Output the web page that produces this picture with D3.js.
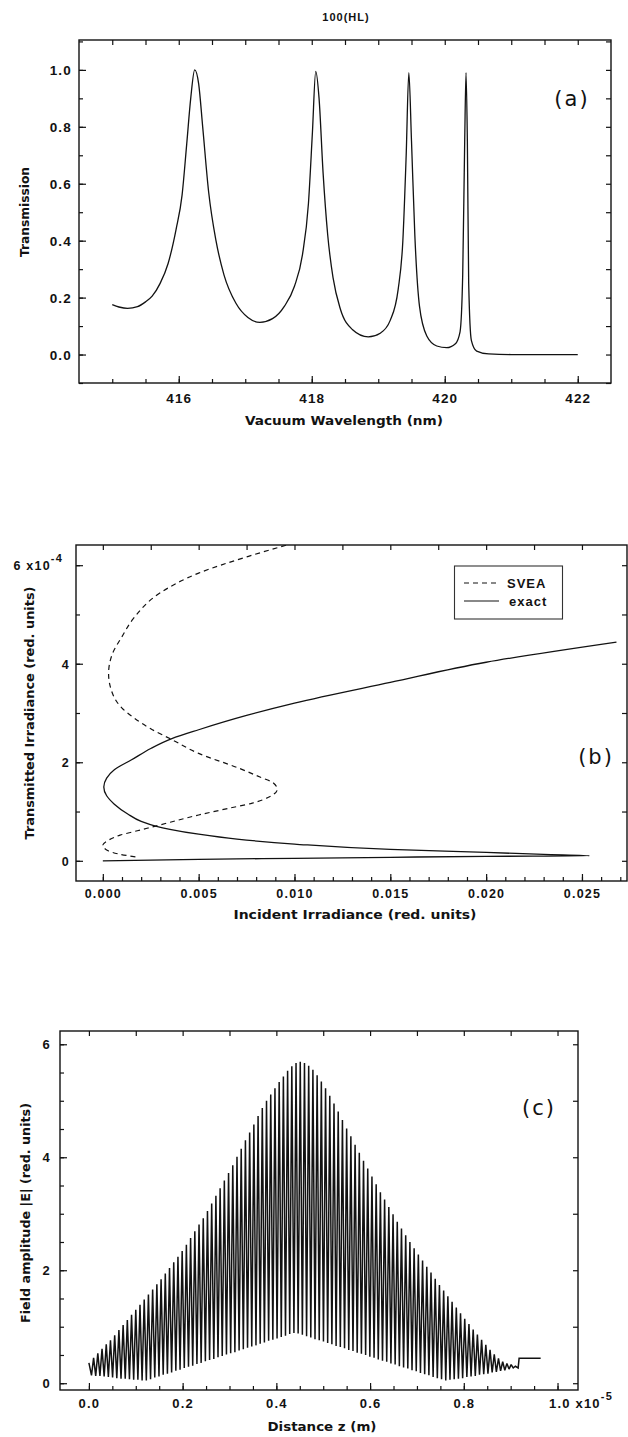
<!DOCTYPE html>
<html><head><meta charset="utf-8">
<script src="https://cdn.jsdelivr.net/npm/d3@7/dist/d3.min.js"></script>
<style>
body{margin:0;background:#fff;}
svg{display:block;background:#fff;}
</style></head><body>
<svg id="fig" width="628" height="1437"></svg>
<script>
// ---------------- DATA ----------------
const figureTitle = "100(HL)";

// Panel (a): transmission spectrum
const aWavelength = [415.00,415.10,415.23,415.38,415.50,415.60,415.72,415.84,415.96,416.05,416.12,416.18,416.24,416.30,416.36,416.45,416.56,416.68,416.86,417.04,417.22,417.41,417.59,417.74,417.86,417.95,418.01,418.06,418.11,418.17,418.24,418.32,418.43,418.61,418.85,419.03,419.18,419.30,419.37,419.42,419.46,419.50,419.55,419.62,419.73,419.88,420.03,420.16,420.23,420.27,420.30,420.32,420.34,420.36,420.40,420.48,420.66,421.00,422.00];
const aTransmission = [0.175,0.167,0.162,0.168,0.185,0.205,0.25,0.32,0.44,0.56,0.74,0.90,1.00,0.95,0.80,0.57,0.40,0.28,0.18,0.13,0.113,0.126,0.17,0.24,0.35,0.53,0.78,0.995,0.90,0.64,0.42,0.27,0.16,0.088,0.062,0.075,0.12,0.23,0.40,0.70,0.99,0.75,0.42,0.17,0.065,0.030,0.024,0.038,0.08,0.28,0.75,0.99,0.75,0.25,0.05,0.012,0.002,0.0,0.0];
const aXTicks = [416,418,420,422];
const aXTickLabels = ["416","418","420","422"];
const aYTicks = [0,0.2,0.4,0.6,0.8,1.0];
const aYTickLabels = ["0.0","0.2","0.4","0.6","0.8","1.0"];

// Panel (b): bistability curves (transmitted irradiance in units of 1e-4)
const bExactIncident = [0.0000,0.0050,0.0100,0.0150,0.0200,0.0254,0.0230,0.0200,0.0150,0.0100,0.0070,0.0050,0.0035,0.0028,0.0020,0.0013,0.0006,0.0002,0.00005,0.0002,0.0006,0.0015,0.0025,0.0036,0.0050,0.0075,0.0100,0.0150,0.0200,0.0268];
const bExactTransmitted = [0.00,0.03,0.05,0.07,0.09,0.10,0.13,0.17,0.23,0.34,0.44,0.54,0.64,0.70,0.80,0.95,1.15,1.32,1.50,1.68,1.85,2.05,2.28,2.48,2.66,2.95,3.20,3.62,4.03,4.44];
const bSveaIncident = [0.0017,0.0008,0.0002,0.0000,0.0003,0.0009,0.0018,0.0028,0.0050,0.0065,0.0078,0.0087,0.0091,0.0089,0.0082,0.0071,0.0050,0.0036,0.0025,0.0017,0.0010,0.0005,0.0003,0.0005,0.0010,0.0016,0.0030,0.0050,0.0076,0.0097];
const bSveaTransmitted = [0.08,0.14,0.22,0.32,0.42,0.52,0.61,0.71,0.93,1.06,1.17,1.30,1.45,1.58,1.70,1.88,2.18,2.46,2.68,2.88,3.10,3.40,3.80,4.20,4.55,4.92,5.44,5.84,6.18,6.42];
const bXTicks = [0,0.005,0.010,0.015,0.020,0.025];
const bXTickLabels = ["0.000","0.005","0.010","0.015","0.020","0.025"];
const bYTicks = [0,2,4,6];
const bYTickLabels = ["0","2","4","6"];
const bYExponent = "-4";
const bLegendLabels = ["SVEA","exact"];

// Panel (c): field amplitude inside the stack (z in units of 1e-5 m)
const cHeadZ = [0.000];
const cHeadE = [0.36];
const cPeakZ = [0.010,0.019,0.028,0.037,0.046,0.055,0.064,0.073,0.082,0.091,0.100,0.109,0.118,0.127,0.136,0.145,0.154,0.163,0.172,0.181,0.190,0.199,0.208,0.217,0.226,0.235,0.244,0.253,0.262,0.271,0.280,0.289,0.298,0.307,0.316,0.325,0.334,0.343,0.352,0.361,0.370,0.379,0.388,0.397,0.406,0.415,0.424,0.433,0.442,0.451,0.460,0.469,0.478,0.487,0.496,0.505,0.514,0.523,0.532,0.541,0.550,0.559,0.568,0.577,0.586,0.595,0.604,0.613,0.622,0.631,0.640,0.649,0.658,0.667,0.676,0.685,0.694,0.703,0.712,0.721,0.730,0.739,0.748,0.757,0.766,0.775,0.784,0.793,0.802,0.811,0.820,0.829,0.838,0.847,0.856,0.865,0.874,0.883,0.892,0.901];
const cPeakE = [0.45,0.53,0.61,0.69,0.76,0.85,0.94,1.03,1.12,1.21,1.30,1.39,1.48,1.57,1.66,1.75,1.84,1.94,2.04,2.14,2.24,2.34,2.45,2.57,2.69,2.81,2.92,3.05,3.18,3.32,3.45,3.59,3.72,3.86,4.01,4.15,4.30,4.44,4.58,4.73,4.87,5.00,5.11,5.22,5.33,5.43,5.53,5.61,5.67,5.69,5.67,5.62,5.55,5.45,5.34,5.22,5.09,4.95,4.81,4.66,4.51,4.37,4.22,4.08,3.94,3.80,3.66,3.52,3.38,3.25,3.12,2.99,2.86,2.74,2.62,2.50,2.39,2.28,2.17,2.06,1.96,1.85,1.74,1.64,1.54,1.44,1.34,1.24,1.14,1.05,0.95,0.86,0.77,0.68,0.59,0.51,0.44,0.38,0.35,0.33];
const cTroughZ = [0.0055,0.0145,0.0235,0.0325,0.0415,0.0505,0.0595,0.0685,0.0775,0.0865,0.0955,0.1045,0.1135,0.1225,0.1315,0.1405,0.1495,0.1585,0.1675,0.1765,0.1855,0.1945,0.2035,0.2125,0.2215,0.2305,0.2395,0.2485,0.2575,0.2665,0.2755,0.2845,0.2935,0.3025,0.3115,0.3205,0.3295,0.3385,0.3475,0.3565,0.3655,0.3745,0.3835,0.3925,0.4015,0.4105,0.4195,0.4285,0.4375,0.4465,0.4555,0.4645,0.4735,0.4825,0.4915,0.5005,0.5095,0.5185,0.5275,0.5365,0.5455,0.5545,0.5635,0.5725,0.5815,0.5905,0.5995,0.6085,0.6175,0.6265,0.6355,0.6445,0.6535,0.6625,0.6715,0.6805,0.6895,0.6985,0.7075,0.7165,0.7255,0.7345,0.7435,0.7525,0.7615,0.7705,0.7795,0.7885,0.7975,0.8065,0.8155,0.8245,0.8335,0.8425,0.8515,0.8605,0.8695,0.8785,0.8875,0.8965,0.9055];
const cTroughE = [0.14,0.13,0.13,0.12,0.11,0.10,0.09,0.08,0.08,0.07,0.06,0.06,0.05,0.05,0.07,0.10,0.12,0.15,0.17,0.19,0.22,0.24,0.27,0.29,0.31,0.34,0.36,0.39,0.41,0.43,0.46,0.48,0.51,0.53,0.55,0.58,0.60,0.63,0.65,0.67,0.70,0.72,0.75,0.77,0.79,0.82,0.84,0.87,0.89,0.88,0.86,0.83,0.81,0.78,0.76,0.74,0.71,0.69,0.66,0.64,0.62,0.59,0.57,0.54,0.52,0.50,0.47,0.45,0.42,0.40,0.38,0.35,0.33,0.30,0.28,0.26,0.23,0.21,0.18,0.16,0.14,0.11,0.09,0.07,0.05,0.06,0.07,0.08,0.09,0.11,0.12,0.13,0.15,0.16,0.17,0.19,0.20,0.22,0.23,0.25,0.27];
const cTailZ = [0.910,0.916,0.918,0.964];
const cTailE = [0.30,0.27,0.44,0.44];
const cXTicks = [0,0.2,0.4,0.6,0.8,1.0];
const cXTickLabels = ["0.0","0.2","0.4","0.6","0.8","1.0"];
const cXExponent = "-5";
const cYTicks = [0,2,4,6];
const cYTickLabels = ["0","2","4","6"];

// ---------------- DRAWING ----------------
const svg = d3.select("#fig");
const INK = "#121212";
const TICKFONT = "'Liberation Sans', Arial, sans-serif";
const TITLEFONT = "'DejaVu Sans', 'Liberation Sans', sans-serif";

function styleAxis(sel, fs) {
  sel.select(".domain").remove();
  sel.attr("font-family", TICKFONT).attr("font-size", fs || 13);
  sel.selectAll("line").attr("stroke", INK).attr("stroke-width", 1.2);
  sel.selectAll("text").attr("fill", INK).attr("font-weight", "bold").attr("letter-spacing", "1.2px");
}

function makePanel(p) {
  const g = svg.append("g");
  const x = d3.scaleLinear().domain(p.xDomain).range([p.left, p.right]);
  const y = d3.scaleLinear().domain(p.yDomain).range([p.bottom, p.top]);
  svg.append("clipPath").attr("id", p.id).append("rect")
    .attr("x", p.left).attr("y", p.top).attr("width", p.right - p.left).attr("height", p.bottom - p.top);

  g.append("g").attr("transform", `translate(0,${p.bottom})`)
    .call(d3.axisBottom(x).tickValues(p.xTicks).tickSizeInner(-7).tickSizeOuter(0)
      .tickFormat((d, i) => p.xLabels[i]))
    .call(s => { styleAxis(s, p.fs); s.selectAll("text").attr("y", p.xLabelDy).attr("dy", "0.35em"); });
  g.append("g").attr("transform", `translate(0,${p.bottom})`)
    .call(d3.axisBottom(x).tickValues(p.xMinorB).tickSizeInner(-4).tickSizeOuter(0).tickFormat(""))
    .call(s => styleAxis(s));
  g.append("g").attr("transform", `translate(0,${p.top})`)
    .call(d3.axisTop(x).tickValues(p.xMinorT).tickSizeInner(-5).tickSizeOuter(0).tickFormat(""))
    .call(s => styleAxis(s));
  g.append("g").attr("transform", `translate(${p.left},0)`)
    .call(d3.axisLeft(y).tickValues(p.yTicks).tickSizeInner(-7).tickSizeOuter(0)
      .tickFormat((d, i) => p.yLabels[i]))
    .call(s => { styleAxis(s, p.fs); s.selectAll("text").attr("x", -p.yLabelDx).attr("dy", "0.35em"); });
  g.append("g").attr("transform", `translate(${p.left},0)`)
    .call(d3.axisLeft(y).tickValues(p.yMinorL).tickSizeInner(-4).tickSizeOuter(0).tickFormat(""))
    .call(s => styleAxis(s));
  g.append("g").attr("transform", `translate(${p.right},0)`)
    .call(d3.axisRight(y).tickValues(p.yMinorR).tickSizeInner(-5).tickSizeOuter(0).tickFormat(""))
    .call(s => styleAxis(s));

  g.append("rect").attr("x", p.left).attr("y", p.top)
    .attr("width", p.right - p.left).attr("height", p.bottom - p.top)
    .attr("fill", "none").attr("stroke", INK).attr("stroke-width", 1.4);

  g.append("text").attr("x", p.xTitle.x).attr("y", p.xTitle.y).attr("text-anchor", "middle")
    .attr("dominant-baseline", "central").attr("font-family", TITLEFONT).attr("font-weight", "bold")
    .attr("font-size", 12).attr("fill", INK).attr("textLength", p.xTitle.len)
    .attr("lengthAdjust", "spacingAndGlyphs").text(p.xTitle.text);
  g.append("text").attr("transform", `translate(${p.yTitle.x},${p.yTitle.y}) rotate(-90)`)
    .attr("text-anchor", "middle").attr("dominant-baseline", "central")
    .attr("font-family", TITLEFONT).attr("font-weight", "bold").attr("font-size", 12)
    .attr("fill", INK).attr("textLength", p.yTitle.len).attr("lengthAdjust", "spacingAndGlyphs")
    .text(p.yTitle.text);
  g.append("text").attr("x", p.tag.x).attr("y", p.tag.y).attr("text-anchor", "middle")
    .attr("dominant-baseline", "central").attr("font-family", "'DejaVu Sans', sans-serif")
    .attr("font-size", 21).attr("fill", INK).attr("letter-spacing", "2px").text(p.tag.text);
  return {g, x, y};
}

svg.append("text").attr("x", 346).attr("y", 17).attr("text-anchor", "middle")
  .attr("dominant-baseline", "central").attr("font-family", TICKFONT).attr("font-weight", "bold")
  .attr("font-size", 11).attr("letter-spacing", "1px").attr("fill", INK).text(figureTitle);

// ---- Panel (a)
const A = makePanel({
  id: "clipA", left: 79, right: 611, top: 40, bottom: 383,
  xDomain: [414.5, 422.5], yDomain: [-0.1, 1.105],
  xTicks: aXTicks, xLabels: aXTickLabels, yTicks: aYTicks, yLabels: aYTickLabels,
  xMinorB: d3.range(415, 422.01, 0.5), xMinorT: d3.range(415, 422.01, 0.5),
  yMinorL: d3.range(-0.1, 1.101, 0.1), yMinorR: d3.range(-0.1, 1.101, 0.1),
  xLabelDy: 15, yLabelDx: 7, fs: 13.5,
  xTitle: {x: 344, y: 421, len: 198, text: "Vacuum Wavelength (nm)"},
  yTitle: {x: 25, y: 212, len: 90, text: "Transmission"},
  tag: {x: 572, y: 99, text: "(a)"}
});
A.g.append("path").datum(aWavelength.map((w, i) => [w, aTransmission[i]]))
  .attr("clip-path", "url(#clipA)")
  .attr("fill", "none").attr("stroke", INK).attr("stroke-width", 1.3)
  .attr("d", d3.line().x(d => A.x(d[0])).y(d => A.y(d[1])).curve(d3.curveMonotoneX));

// ---- Panel (b)
const B = makePanel({
  id: "clipB", left: 76, right: 627, top: 545, bottom: 881,
  xDomain: [-0.0014, 0.02735], yDomain: [-0.41, 6.41],
  xTicks: bXTicks, xLabels: bXTickLabels, yTicks: bYTicks, yLabels: bYTickLabels,
  xMinorB: d3.range(0, 0.0271, 0.001), xMinorT: d3.range(0, 0.0271, 0.0025),
  yMinorL: d3.range(0, 6.01, 1), yMinorR: d3.range(0, 6.01, 1),
  xLabelDy: 13, yLabelDx: 6, fs: 12.5,
  xTitle: {x: 355, y: 915, len: 243, text: "Incident Irradiance (red. units)"},
  yTitle: {x: 30, y: 713, len: 253, text: "Transmitted Irradiance (red. units)"},
  tag: {x: 596, y: 757, text: "(b)"}
});
B.g.selectAll(".tick text").filter(function(){ return d3.select(this).text() === "6"; })
  .each(function(){
    const t = d3.select(this);
    t.text(null).attr("x", -13);
    t.append("tspan").text("6 x10");
    t.append("tspan").attr("dy", -8).attr("font-size", 11).text(bYExponent);
  });
const lineB = d3.line().x(d => B.x(d[0])).y(d => B.y(d[1])).curve(d3.curveMonotoneY);
B.g.append("path").datum(bSveaIncident.map((v, i) => [v, bSveaTransmitted[i]]))
  .attr("clip-path", "url(#clipB)").attr("fill", "none").attr("stroke", INK)
  .attr("stroke-width", 1.2).attr("stroke-dasharray", "5,4").attr("d", lineB);
B.g.append("path").datum(bExactIncident.map((v, i) => [v, bExactTransmitted[i]]))
  .attr("clip-path", "url(#clipB)").attr("fill", "none").attr("stroke", INK)
  .attr("stroke-width", 1.3).attr("d", lineB);
const leg = B.g.append("g");
leg.append("rect").attr("x", 454.5).attr("y", 566).attr("width", 108).attr("height", 53)
  .attr("fill", "#fff").attr("stroke", "#333").attr("stroke-width", 1.1);
bLegendLabels.forEach((lab, i) => {
  const yy = 583 + i * 18;
  leg.append("line").attr("x1", 464).attr("x2", 499).attr("y1", yy).attr("y2", yy)
    .attr("stroke", INK).attr("stroke-width", 1.2).attr("stroke-dasharray", i === 0 ? "5,4" : null);
  leg.append("text").attr("x", 507 + i * 2).attr("y", yy).attr("dominant-baseline", "central")
    .attr("font-family", TICKFONT).attr("font-weight", "bold").attr("font-size", 13)
    .attr("letter-spacing", "1px").attr("fill", INK).text(lab);
});

// ---- Panel (c)
const C = makePanel({
  id: "clipC", left: 60, right: 578, top: 1031, bottom: 1390,
  xDomain: [-0.0617, 1.0437], yDomain: [-0.12, 6.235],
  xTicks: cXTicks, xLabels: cXTickLabels, yTicks: cYTicks, yLabels: cYTickLabels,
  xMinorB: d3.range(0, 1.001, 0.05), xMinorT: d3.range(0, 1.001, 0.1),
  yMinorL: d3.range(0, 6.01, 0.5), yMinorR: d3.range(0, 6.01, 1),
  xLabelDy: 13, yLabelDx: 9, fs: 13,
  xTitle: {x: 322, y: 1427, len: 109, text: "Distance z (m)"},
  yTitle: {x: 26, y: 1213, len: 220, text: "Field amplitude |E| (red. units)"},
  tag: {x: 539, y: 1108, text: "(c)"}
});
C.g.selectAll(".tick text").filter(function(){ return d3.select(this).text() === "1.0"; })
  .each(function(){
    const t = d3.select(this);
    t.text(null).attr("text-anchor", "start").attr("x", -9);
    t.append("tspan").text("1.0 x10");
    t.append("tspan").attr("dy", -8).attr("font-size", 11).text(cXExponent);
  });
const cPoints = [];
cHeadZ.forEach((z, i) => cPoints.push([z, cHeadE[i]]));
cTroughZ.forEach((z, i) => {
  cPoints.push([z, cTroughE[i]]);
  if (i < cPeakZ.length) cPoints.push([cPeakZ[i], cPeakE[i]]);
});
cTailZ.forEach((z, i) => cPoints.push([z, cTailE[i]]));
C.g.append("path").datum(cPoints).attr("clip-path", "url(#clipC)")
  .attr("fill", "none").attr("stroke", INK).attr("stroke-width", 1.5).attr("stroke-linejoin", "miter")
  .attr("stroke-miterlimit", 2)
  .attr("d", d3.line().x(d => C.x(d[0])).y(d => C.y(d[1])));
</script>
</body></html>
